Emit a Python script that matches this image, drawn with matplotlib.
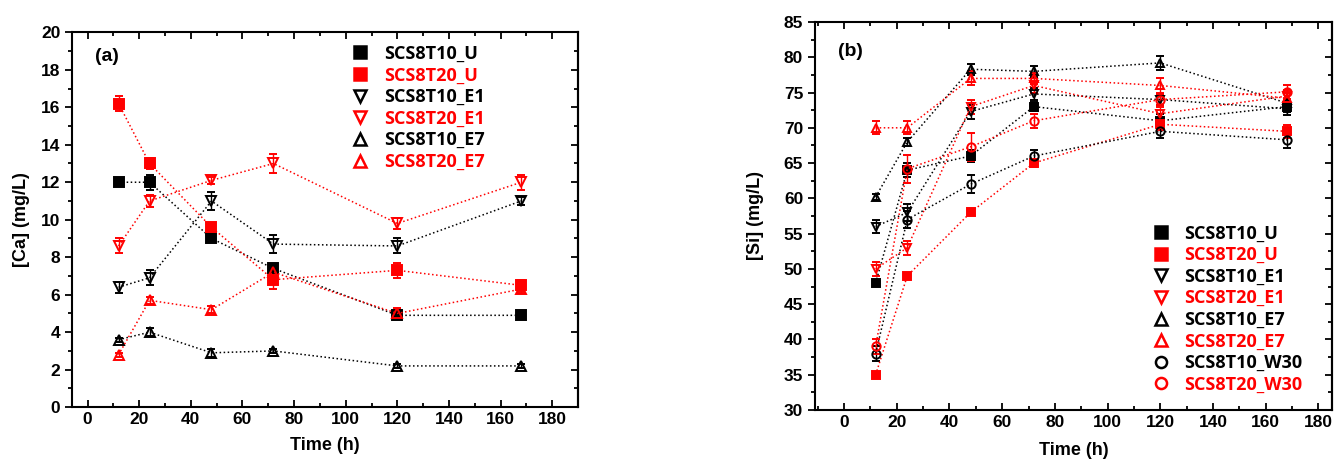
import matplotlib
matplotlib.use("Agg")
import matplotlib.pyplot as plt
from matplotlib.lines import Line2D
from matplotlib.ticker import MultipleLocator

plt.rcParams['font.family'] = ['Liberation Sans', 'DejaVu Sans']
plt.rcParams['font.weight'] = 'bold'

RED = '#ff0000'
BLK = '#000000'

# tick values
time_ticks = [0, 20, 40, 60, 80, 100, 120, 140, 160, 180]
ca_ticks = [0, 2, 4, 6, 8, 10, 12, 14, 16, 18, 20]
si_ticks = [30, 35, 40, 45, 50, 55, 60, 65, 70, 75, 80, 85]

# ---- panel (a): calcium ----
t_ca = [12, 24, 48, 72, 120, 168]
ca_t10_u = [12.0, 12.0, 9.0, 7.4, 4.9, 4.9]
ca_t20_u = [16.2, 13.0, 9.6, 6.8, 7.3, 6.5]
ca_t10_e1 = [6.4, 6.9, 11.0, 8.7, 8.6, 11.0]
ca_t20_e1 = [8.6, 11.0, 12.1, 13.0, 9.8, 12.0]
ca_t10_e7 = [3.6, 4.0, 2.9, 3.0, 2.2, 2.2]
ca_t20_e7 = [2.8, 5.7, 5.2, 7.2, 5.0, 6.3]

ca_err_t10_u = [0.2, 0.4, 0.2, 0.2, 0.2, 0.1]
ca_err_t20_u = [0.4, 0.3, 0.2, 0.5, 0.4, 0.3]
ca_err_t10_e1 = [0.3, 0.4, 0.5, 0.5, 0.4, 0.2]
ca_err_t20_e1 = [0.4, 0.3, 0.2, 0.5, 0.3, 0.4]
ca_err_t10_e7 = [0.1, 0.2, 0.2, 0.1, 0.1, 0.1]
ca_err_t20_e7 = [0.1, 0.2, 0.2, 0.3, 0.3, 0.2]

# ---- panel (b): silicon ----
t_si = [12, 24, 48, 72, 120, 168]
si_t10_u = [48.0, 64.0, 66.0, 73.0, 71.0, 73.0]
si_t20_u = [35.0, 49.0, 58.0, 65.0, 70.5, 69.5]
si_t10_e1 = [56.0, 58.0, 72.3, 74.8, 74.0, 72.7]
si_t20_e1 = [50.0, 53.0, 73.0, 76.0, 72.0, 74.5]
si_t10_e7 = [60.2, 68.0, 78.3, 78.0, 79.2, 73.5]
si_t20_e7 = [70.0, 70.0, 77.0, 77.0, 76.0, 74.2]
si_t10_w30 = [38.0, 57.0, 62.0, 66.0, 69.5, 68.3]
si_t20_w30 = [39.0, 64.2, 67.3, 71.0, 74.0, 75.1]

si_err_t10_u = [0.4, 1.0, 0.8, 0.6, 1.0, 0.8]
si_err_t20_u = [0.3, 0.4, 0.3, 0.6, 0.8, 0.9]
si_err_t10_e1 = [0.9, 1.2, 1.0, 0.9, 0.8, 0.9]
si_err_t20_e1 = [1.0, 1.0, 1.0, 1.0, 1.0, 0.9]
si_err_t10_e7 = [0.4, 0.6, 0.8, 0.8, 1.0, 0.6]
si_err_t20_e7 = [0.9, 0.9, 1.0, 0.8, 1.0, 0.8]
si_err_t10_w30 = [1.0, 1.2, 1.3, 0.9, 1.0, 1.2]
si_err_t20_w30 = [1.0, 2.0, 2.0, 1.0, 0.8, 1.0]

labels_ca = ['SCS8T10_U', 'SCS8T20_U', 'SCS8T10_E1', 'SCS8T20_E1',
             'SCS8T10_E7', 'SCS8T20_E7']
labels_si = labels_ca + ['SCS8T10_W30', 'SCS8T20_W30']
colors = [BLK, RED, BLK, RED, BLK, RED, BLK, RED]
markers = ['s', 's', 'v', 'v', '^', '^', 'o', 'o']
filled = [True, True, False, False, False, False, False, False]


def draw_series(ax, t, series, errs, ms):
    for i, (y, e) in enumerate(zip(series, errs)):
        c = colors[i]
        ax.errorbar(t, y, yerr=e, color=c, linestyle=':', linewidth=1.1,
                    marker=markers[i], markersize=ms,
                    markerfacecolor=c if filled[i] else 'none',
                    markeredgecolor=c, markeredgewidth=1.4,
                    ecolor=c, elinewidth=1.0, capsize=3, capthick=1.0)


def style_axes(ax, xlim, ylim, yticks, ymin):
    ax.set_xlim(*xlim)
    ax.set_ylim(*ylim)
    ax.set_xticks(time_ticks, [str(v) for v in time_ticks],
                  fontsize=12.5, fontweight='bold')
    ax.set_yticks(yticks, [str(v) for v in yticks],
                  fontsize=12.5, fontweight='bold')
    ax.xaxis.set_minor_locator(MultipleLocator(10))
    ax.yaxis.set_minor_locator(MultipleLocator(ymin))
    for s in ax.spines.values():
        s.set_linewidth(1.5)
    ax.tick_params(axis='x', which='both', direction='in', top=True, width=1.3)
    ax.tick_params(axis='y', which='both', direction='out', right=False,
                   width=1.3)
    ax.tick_params(which='major', length=5)
    ax.tick_params(which='minor', length=3)
    sec = ax.secondary_yaxis('right')
    sec.set_yticks(yticks)
    sec.yaxis.set_minor_locator(MultipleLocator(ymin))
    sec.tick_params(which='both', direction='in', labelright=False, width=1.3)
    sec.tick_params(which='major', length=5)
    sec.tick_params(which='minor', length=3)
    sec.spines['right'].set_linewidth(1.5)


def add_legend(ax, labels, n, anchor):
    handles = []
    for i in range(n):
        c = colors[i]
        handles.append(Line2D([], [], linestyle='none', marker=markers[i],
                              markersize=8, color=c,
                              markerfacecolor=c if filled[i] else 'none',
                              markeredgewidth=1.8))
    leg = ax.legend(handles, labels, loc='upper left', bbox_to_anchor=anchor,
                    frameon=False, handlelength=1.0, handletextpad=0.8,
                    labelspacing=0.2,
                    prop={'family': 'Open Sans', 'weight': 'bold', 'size': 13},
                    labelcolor=colors[:n])
    return leg


fig = plt.figure(figsize=(13.35, 4.68), dpi=100)

ax1 = fig.add_axes([0.054, 0.130, 0.379, 0.801])
draw_series(ax1, t_ca,
            [ca_t10_u, ca_t20_u, ca_t10_e1, ca_t20_e1, ca_t10_e7, ca_t20_e7],
            [ca_err_t10_u, ca_err_t20_u, ca_err_t10_e1, ca_err_t20_e1,
             ca_err_t10_e7, ca_err_t20_e7], 7)
style_axes(ax1, (-6, 190), (0, 20), ca_ticks, 1)
ax1.set_xlabel('Time (h)', fontsize=13, fontweight='bold', labelpad=7)
ax1.set_ylabel('[Ca] (mg/L)', fontsize=13, fontweight='bold', labelpad=8)
ax1.text(0.045, 0.935, '(a)', transform=ax1.transAxes, fontsize=14,
         fontweight='bold', va='center')
add_legend(ax1, labels_ca, 6, (0.52, 1.01))

ax2 = fig.add_axes([0.6105, 0.124, 0.387, 0.829])
draw_series(ax2, t_si,
            [si_t10_u, si_t20_u, si_t10_e1, si_t20_e1, si_t10_e7, si_t20_e7,
             si_t10_w30, si_t20_w30],
            [si_err_t10_u, si_err_t20_u, si_err_t10_e1, si_err_t20_e1,
             si_err_t10_e7, si_err_t20_e7, si_err_t10_w30, si_err_t20_w30], 6)
style_axes(ax2, (-11, 185), (30, 85), si_ticks, 2.5)
ax2.set_xlabel('Time (h)', fontsize=13, fontweight='bold', labelpad=9)
ax2.set_ylabel('[Si] (mg/L)', fontsize=13, fontweight='bold', labelpad=14)
ax2.text(0.045, 0.925, '(b)', transform=ax2.transAxes, fontsize=14,
         fontweight='bold', va='center')
add_legend(ax2, labels_si, 8, (0.62, 0.52))

fig.savefig('out.png', dpi=100)
